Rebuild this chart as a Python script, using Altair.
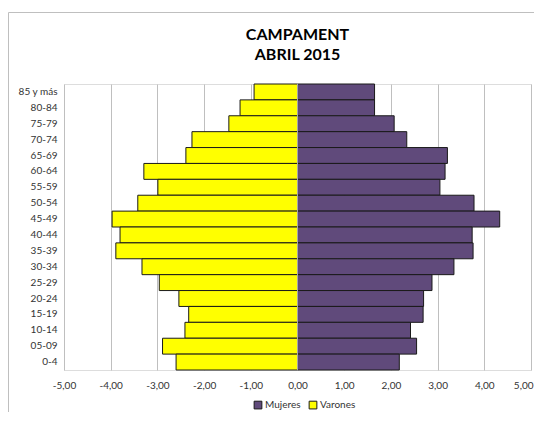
import altair as alt
import pandas as pd

ages = ["85 y más", "80-84", "75-79", "70-74", "65-69", "60-64", "55-59", "50-54",
        "45-49", "40-44", "35-39", "30-34", "25-29", "20-24", "15-19", "10-14",
        "05-09", "0-4"]
varones = [-0.93, -1.23, -1.47, -2.26, -2.39, -3.29, -2.99, -3.42,
           -3.97, -3.80, -3.89, -3.33, -2.96, -2.54, -2.33, -2.41,
           -2.89, -2.60]
mujeres = [1.65, 1.65, 2.07, 2.34, 3.21, 3.16, 3.05, 3.78,
           4.33, 3.74, 3.76, 3.35, 2.88, 2.70, 2.69, 2.42,
           2.55, 2.18]
series = ["Mujeres", "Varones"]
colors = ["#604A7B", "#FFFF00"]
x_ticks = [-5, -4, -3, -2, -1, 0, 1, 2, 3, 4, 5]
title_lines = ["CAMPAMENT", "ABRIL 2015"]

rows = []
for a, m in zip(ages, mujeres):
    rows.append({"edad": a, "sexo": "Mujeres", "valor": m})
for a, v in zip(ages, varones):
    rows.append({"edad": a, "sexo": "Varones", "valor": v})
df = pd.DataFrame(rows)

FONT = "Lato"
W, H = 467, 286

xscale = alt.Scale(domain=[-5, 5], nice=False)
yenc = alt.Y("edad:N", sort=ages, scale=alt.Scale(paddingInner=0, paddingOuter=0),
             axis=alt.Axis(title=None, domain=False, ticks=False, labelPadding=7,
                           labelFont=FONT, labelFontSize=10, labelColor="#333333",
                           grid=False))

bars = alt.Chart(df).mark_bar(stroke="#1a1a1a", strokeWidth=1, opacity=1).encode(
    x=alt.X("valor:Q", scale=xscale,
            axis=alt.Axis(title=None, values=x_ticks, domain=False, ticks=False,
                          grid=True, gridColor="#BFBFBF", gridWidth=1,
                          labelFont=FONT, labelFontSize=10, labelColor="#333333",
                          labelPadding=10, labelFlush=False,
                          labelAlign={"condition": {"test": "datum.value == 5", "value": "right"},
                                      "value": "center"},
                          labelOffset={"condition": {"test": "datum.value == 5", "value": 2},
                                       "value": 0},
                          labelExpr="(datum.value < 0 ? '-' : '') + replace(format(abs(datum.value), '.2f'), '.', ',')")),
    y=yenc,
    color=alt.Color("sexo:N", scale=alt.Scale(domain=series, range=colors),
                    legend=alt.Legend(title=None, orient="none", direction="horizontal",
                                      legendX=189, legendY=316,
                                      symbolType="square", symbolSize=60,
                                      symbolStrokeColor="#1a1a1a", symbolStrokeWidth=1,
                                      labelFont=FONT, labelFontSize=10, labelColor="#333333",
                                      columnPadding=6, labelOffset=2)),
)

zero = alt.Chart(pd.DataFrame({"z": [0]})).mark_rule(color="#A6A6A6", strokeWidth=1).encode(
    x=alt.X("z:Q", scale=xscale)
)

border_left = alt.Chart(pd.DataFrame({"z": [0]})).mark_rule(color="#BFBFBF", strokeWidth=1).encode(
    x=alt.value(-55.5), y=alt.value(-71.5), y2=alt.value(H + 80)
)
border_top = alt.Chart(pd.DataFrame({"z": [0]})).mark_rule(color="#BFBFBF", strokeWidth=1).encode(
    x=alt.value(-55.5), x2=alt.value(W + 80), y=alt.value(-71.5)
)

title1 = alt.Chart(pd.DataFrame({"t": [title_lines[0]]})).mark_text(
    font=FONT, fontSize=16, fontWeight="bold", color="#000000", align="center",
    baseline="alphabetic").encode(text="t:N", x=alt.value(W / 2), y=alt.value(-44))
title2 = alt.Chart(pd.DataFrame({"t": [title_lines[1]]})).mark_text(
    font=FONT, fontSize=16, fontWeight="bold", color="#000000", align="center",
    baseline="alphabetic").encode(text="t:N", x=alt.value(W / 2), y=alt.value(-24))

chart = alt.layer(border_left, border_top, bars, zero, title1, title2).properties(
    width=W, height=H,
    autosize=alt.AutoSizeParams(type="none"),
    padding={"left": 56, "top": 76, "right": 3, "bottom": 42},
).configure_view(stroke=None).configure(background="white")

chart.save("out.html", embed_options={"renderer": "svg", "actions": False})
